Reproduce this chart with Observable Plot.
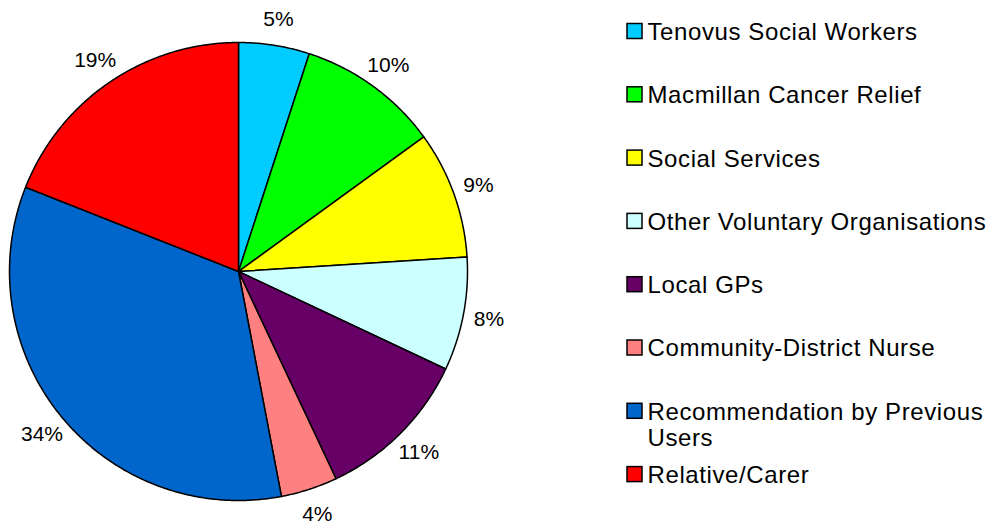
<!DOCTYPE html>
<html>
<head>
<meta charset="utf-8">
<script src="https://cdn.jsdelivr.net/npm/d3@7"></script>
<script src="https://cdn.jsdelivr.net/npm/@observablehq/plot@0.6"></script>
<style>
  html, body { margin: 0; padding: 0; background: #fff; }
  #chart svg { display: block; }
</style>
</head>
<body>
<div id="chart"></div>
<script>
// ---- data ----
const categories = [
  "Tenovus Social Workers",
  "Macmillan Cancer Relief",
  "Social Services",
  "Other Voluntary Organisations",
  "Local GPs",
  "Community-District Nurse",
  "Recommendation by Previous\nUsers",
  "Relative/Carer"
];
const values = [5, 10, 9, 8, 11, 4, 34, 19];
const colors = ["#00CCFF", "#00FF00", "#FFFF00", "#CCFFFF", "#660066", "#FF8080", "#0066CC", "#FF0000"];

// ---- layout ----
const W = 988, H = 524;
const cx = 238, cy = 271, R = 229, labelR = 255;
const legX = 627, legY0 = 31, legStep = 63.3, sw = 15;
const font = "Liberation Sans, Arial, Helvetica, sans-serif";

const total = d3.sum(values);
const arcs = d3.pie().sort(null).value(d => d)(values);

// polygon points for each slice
const slicePts = [];
arcs.forEach((a, i) => {
  const n = Math.max(8, Math.ceil((a.endAngle - a.startAngle) / (Math.PI / 360)));
  slicePts.push({i, x: cx, y: cy});
  for (let k = 0; k <= n; k++) {
    const t = a.startAngle + (a.endAngle - a.startAngle) * k / n;
    slicePts.push({i, x: cx + R * Math.sin(t), y: cy - R * Math.cos(t)});
  }
  slicePts.push({i, x: cx, y: cy});
});

const labels = arcs.map((a, i) => {
  const m = (a.startAngle + a.endAngle) / 2;
  return {
    text: Math.round(values[i] / total * 100) + "%",
    x: cx + labelR * Math.sin(m),
    y: cy - labelR * Math.cos(m)
  };
});

const legend = categories.map((c, i) => ({
  i, name: c, y: legY0 + i * legStep
}));

const chart = Plot.plot({
  width: W,
  height: H,
  margin: 0,
  x: {domain: [0, W], range: [0, W], axis: null},
  y: {domain: [0, H], range: [0, H], axis: null},
  color: {type: "ordinal", domain: d3.range(categories.length), range: colors},
  style: {fontFamily: font, background: "#fff"},
  marks: [
    Plot.line(slicePts, {
      x: "x", y: "y", z: "i", fill: d => d.i,
      stroke: "#000", strokeWidth: 1.5, strokeLinejoin: "round", curve: "linear"
    }),
    Plot.text(labels, {
      x: "x", y: "y", text: "text",
      fontSize: 21, fill: "#000", textAnchor: "middle", lineAnchor: "middle"
    }),
    Plot.rect(legend, {
      x1: () => legX, x2: () => legX + sw,
      y1: d => d.y - sw / 2, y2: d => d.y + sw / 2,
      fill: d => d.i, stroke: "#000", strokeWidth: 1.5
    }),
    Plot.text(legend, {
      x: () => legX + sw + 5, y: "y", text: "name",
      fontSize: 24, fill: "#000", textAnchor: "start",
      lineAnchor: "top", dy: -10, lineHeight: 26 / 24
    })
  ]
});

// widen legend lettering slightly to match the reference's text widths
d3.select(chart).selectAll('g[aria-label="text"]')
  .filter((d, i) => i === 1)
  .attr("letter-spacing", "0.6px");

document.getElementById("chart").appendChild(chart);
</script>
</body>
</html>
